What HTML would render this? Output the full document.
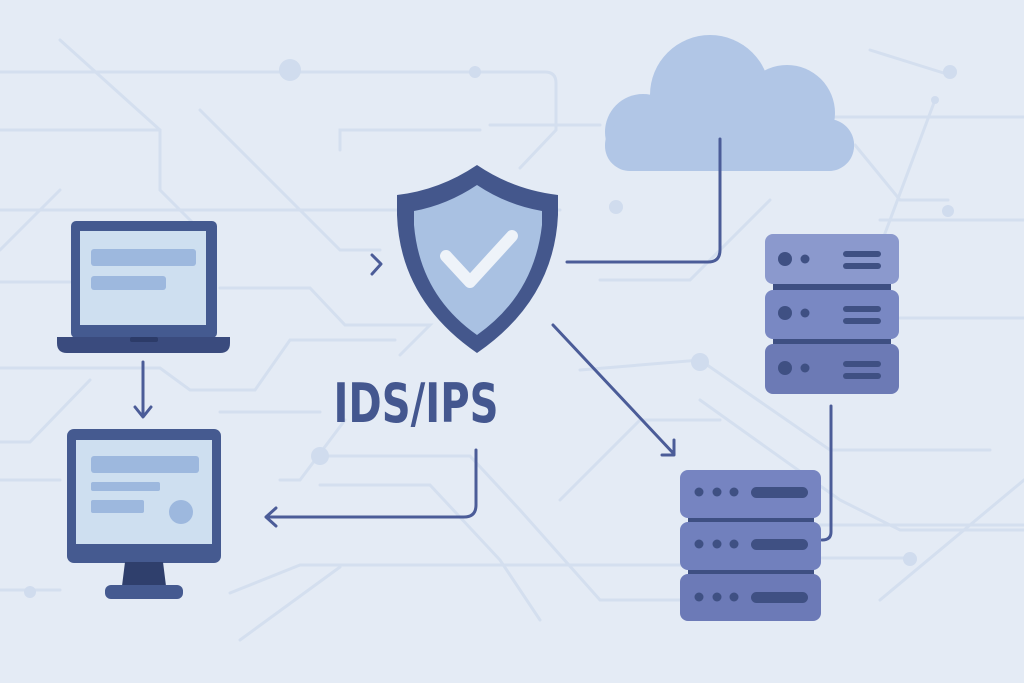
<!DOCTYPE html>
<html><head><meta charset="utf-8"><style>
html,body{margin:0;padding:0;background:#e3eaf4;}
svg{display:block}
</style></head><body>
<svg width="1024" height="683" viewBox="0 0 1024 683" xmlns="http://www.w3.org/2000/svg">
<rect width="1024" height="683" fill="#e4ebf5"/>
<g stroke="#d4dfef" stroke-width="3" fill="none" stroke-linecap="round">
<path d="M0 72 H545 Q556 72 556 83 V130 L520 168"/>
<path d="M60 40 L160 130 V190 L200 230"/>
<path d="M0 130 H160"/>
<path d="M0 210 H300 L340 250 H380"/>
<path d="M200 110 L300 210 H560"/>
<path d="M340 150 V130 H480"/>
<path d="M490 125 H600"/>
<path d="M0 250 L60 190"/>
<path d="M0 282 H70"/>
<path d="M220 288 H310 L345 325 H430 L400 355"/>
<path d="M0 368 H160 L190 390 H255 L290 340 H395"/>
<path d="M0 442 H30 L90 380"/>
<path d="M220 412 H320"/>
<path d="M0 480 H60"/>
<path d="M320 456 H470 L520 510 L600 600 H700"/>
<path d="M280 480 H300 L345 420"/>
<path d="M320 485 H430 L500 560 L540 620"/>
<path d="M0 590 H60"/>
<path d="M230 593 L300 565 H700"/>
<path d="M240 640 L340 567"/>
<path d="M600 280 H690 L770 200"/>
<path d="M580 370 L700 360 L830 450 H990"/>
<path d="M560 500 L640 420 H720"/>
<path d="M700 400 L840 500 L900 530 H1024"/>
<path d="M750 117 H1024"/>
<path d="M855 145 L900 200 H948"/>
<path d="M880 220 H1024"/>
<path d="M860 300 L935 100"/>
<path d="M900 318 H1024"/>
<path d="M820 525 H1024"/>
<path d="M820 558 H910"/>
<path d="M870 50 L950 75"/>
<path d="M880 600 L1024 480"/>
</g>
<g fill="#d0dcee">
<circle cx="290" cy="70" r="11"/><circle cx="475" cy="72" r="6"/>
<circle cx="616" cy="207" r="7"/><circle cx="700" cy="362" r="9"/>
<circle cx="320" cy="456" r="9"/><circle cx="30" cy="592" r="6"/>
<circle cx="950" cy="72" r="7"/><circle cx="948" cy="211" r="6"/>
<circle cx="910" cy="559" r="7"/><circle cx="935" cy="100" r="4"/>
</g>
<!-- cloud -->
<g fill="#b1c6e6">
<circle cx="643" cy="132" r="38"/><circle cx="710" cy="95" r="60"/>
<circle cx="787" cy="113" r="48"/><circle cx="828" cy="145" r="26"/>
<rect x="605" y="120" width="249" height="51" rx="25"/>
</g>
<!-- shield -->
<path d="M477 165 Q440 190 397 195 L397 215 Q400 300 477 353 Q554 300 558 215 L558 195 Q514 190 477 165 Z" fill="#44578c"/>
<path d="M477 185 Q447 205 414 211 L414 225 Q420 295 477 335 Q534 295 542 225 L542 211 Q507 205 477 185 Z" fill="#a9c1e2"/>
<path d="M446 256 L470 282 L512 236" fill="none" stroke="#eef3f9" stroke-width="12" stroke-linecap="round" stroke-linejoin="round"/>
<text x="416" y="422" font-family="DejaVu Sans, sans-serif" font-size="54" font-weight="bold" fill="#44578f" text-anchor="middle" textLength="165" lengthAdjust="spacingAndGlyphs">IDS/IPS</text>
<!-- connectors -->
<g fill="none" stroke="#4b5c98" stroke-width="3" stroke-linecap="round" stroke-linejoin="round">
<path d="M372 255 L381 264 L372 274"/>
<path d="M567 262 H708 Q720 262 720 250 V139"/>
<path d="M553 325 L674 454 M674 440 V455 H662"/>
<path d="M143 362 V416 M135 407 L143 417 L151 407"/>
<path d="M476 450 V505 Q476 517 464 517 H266 M276 508 L266 517 L276 526"/>
<path d="M831 406 V532 Q831 540 822 540"/>
</g>
<!-- laptop -->
<rect x="71" y="221" width="146" height="117" rx="5" fill="#445a90"/>
<rect x="80" y="231" width="126" height="94" fill="#cedff0"/>
<rect x="91" y="249" width="105" height="17" rx="3" fill="#9db8de"/>
<rect x="91" y="276" width="75" height="14" rx="3" fill="#9db8de"/>
<path d="M57 337 H230 V343 Q230 353 220 353 H67 Q57 353 57 343 Z" fill="#3a4b7e"/>
<rect x="130" y="337" width="28" height="5" rx="2" fill="#2c3b68"/>
<!-- monitor -->
<rect x="67" y="429" width="154" height="134" rx="7" fill="#455a90"/>
<rect x="76" y="440" width="136" height="104" fill="#cedff0"/>
<rect x="91" y="456" width="108" height="17" rx="3" fill="#9db8de"/>
<rect x="91" y="482" width="69" height="9" rx="2" fill="#9db8de"/>
<rect x="91" y="500" width="53" height="13" rx="2" fill="#9db8de"/>
<circle cx="181" cy="512" r="12" fill="#9db8de"/>
<path d="M125 562 H163 L166 586 H122 Z" fill="#2f3f6c"/>
<rect x="105" y="585" width="78" height="14" rx="6" fill="#455a90"/>
<!-- top server -->
<rect x="773" y="280" width="118" height="14" fill="#3e4f82"/>
<rect x="773" y="335" width="118" height="14" fill="#3e4f82"/>
<rect x="765" y="234" width="134" height="50" rx="8" fill="#8b99cd"/>
<rect x="765" y="290" width="134" height="49" rx="8" fill="#7988c3"/>
<rect x="765" y="344" width="134" height="50" rx="8" fill="#6c7ab5"/>
<g fill="#3f5083">
<circle cx="785" cy="259" r="7"/><circle cx="805" cy="259" r="4.5"/>
<circle cx="785" cy="313" r="7"/><circle cx="805" cy="313" r="4.5"/>
<circle cx="785" cy="368" r="7"/><circle cx="805" cy="368" r="4.5"/>
<rect x="843" y="251" width="38" height="6" rx="3"/><rect x="843" y="263" width="38" height="6" rx="3"/>
<rect x="843" y="306" width="38" height="6" rx="3"/><rect x="843" y="318" width="38" height="6" rx="3"/>
<rect x="843" y="361" width="38" height="6" rx="3"/><rect x="843" y="373" width="38" height="6" rx="3"/>
</g>
<!-- bottom server -->
<rect x="688" y="514" width="126" height="12" fill="#3e4f82"/>
<rect x="688" y="566" width="126" height="12" fill="#3e4f82"/>
<rect x="680" y="470" width="141" height="48" rx="8" fill="#7684c1"/>
<rect x="680" y="522" width="141" height="48" rx="8" fill="#7180bd"/>
<rect x="680" y="574" width="141" height="47" rx="8" fill="#6c7ab7"/>
<g fill="#3f5083">
<circle cx="699" cy="492" r="4.5"/><circle cx="717" cy="492" r="4.5"/><circle cx="734" cy="492" r="4.5"/>
<circle cx="699" cy="544" r="4.5"/><circle cx="717" cy="544" r="4.5"/><circle cx="734" cy="544" r="4.5"/>
<circle cx="699" cy="597" r="4.5"/><circle cx="717" cy="597" r="4.5"/><circle cx="734" cy="597" r="4.5"/>
<rect x="751" y="487" width="57" height="11" rx="5.5"/>
<rect x="751" y="539" width="57" height="11" rx="5.5"/>
<rect x="751" y="592" width="57" height="11" rx="5.5"/>
</g>
</svg>
</body></html>
